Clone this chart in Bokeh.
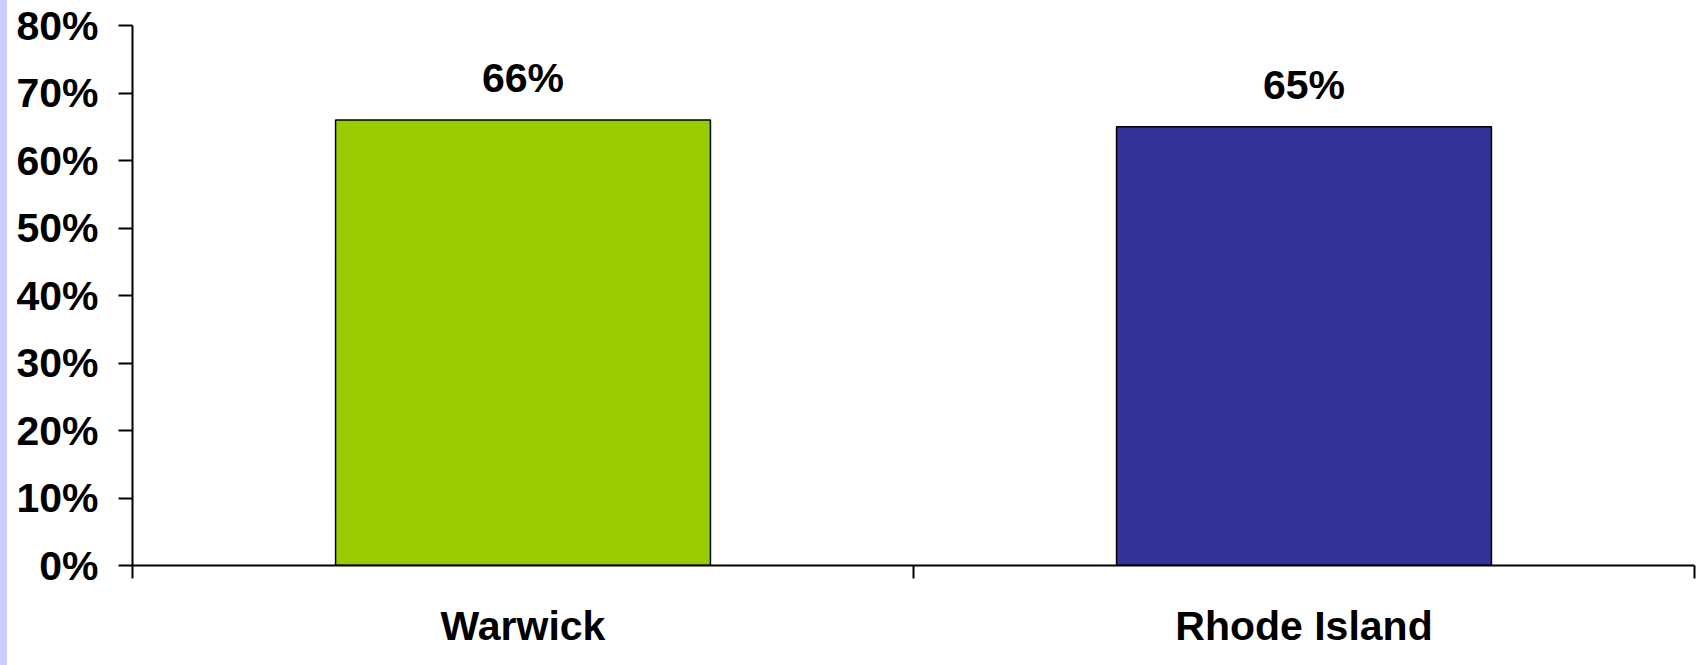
from bokeh.plotting import figure
from bokeh.layouts import row
from bokeh.models import (ColumnDataSource, FixedTicker, NumeralTickFormatter,
                          Range1d, Div)
from bokeh.core.properties import value
from bokeh.embed import file_html
from bokeh.resources import INLINE

# Share of respondents, by area
categories = ["Warwick", "Rhode Island"]
shares = [0.66, 0.65]
bar_colors = ["#99CC00", "#333399"]
share_labels = ["66%", "65%"]
y_ticks = [0.0, 0.1, 0.2, 0.3, 0.4, 0.5, 0.6, 0.7, 0.8]

FONT = "Liberation Sans"
FONT_SIZE = "41px"

positions = [i + 0.5 for i in range(len(categories))]
src = ColumnDataSource(dict(x=positions, top=shares, color=bar_colors,
                            label=share_labels))

p = figure(width=1700, height=665, output_backend="svg", toolbar_location=None,
           x_range=Range1d(0, len(categories)), y_range=Range1d(0, 0.8),
           min_border_left=125, min_border_right=13, min_border_top=25,
           min_border_bottom=100)
p.outline_line_color = None
p.background_fill_color = "white"
p.border_fill_color = "white"
p.xgrid.visible = False
p.ygrid.visible = False

p.vbar(x="x", top="top", width=0.48, fill_color="color", line_color="black",
       line_width=1.5, source=src)

p.text(x="x", y="top", text="label", source=src, text_align="center",
       text_baseline="alphabetic", y_offset=-42, text_font=value(FONT),
       text_font_style="bold", text_font_size=FONT_SIZE, text_color="black")

# y axis: percentages
ya = p.yaxis[0]
ya.ticker = FixedTicker(ticks=y_ticks)
ya.formatter = NumeralTickFormatter(format="0%")
ya.axis_line_width = 2
ya.axis_line_color = "black"
ya.major_tick_line_width = 2
ya.major_tick_line_color = "black"
ya.major_tick_in = 0
ya.major_tick_out = 14
ya.minor_tick_line_color = None
ya.major_label_standoff = 20
ya.major_label_text_font = FONT
ya.major_label_text_font_style = "bold"
ya.major_label_text_font_size = FONT_SIZE
ya.major_label_text_color = "black"

# x axis: ticks on category boundaries, names at the centres
xa = p.xaxis[0]
xa.ticker = FixedTicker(ticks=positions,
                        minor_ticks=list(range(len(categories) + 1)))
xa.major_label_overrides = {pos: name for pos, name in zip(positions, categories)}
xa.axis_line_width = 2
xa.axis_line_color = "black"
xa.major_tick_line_color = None
xa.major_tick_in = 0
xa.major_tick_out = 13
xa.minor_tick_line_width = 2
xa.minor_tick_line_color = "black"
xa.minor_tick_in = 0
xa.minor_tick_out = 13
xa.major_label_standoff = 24
xa.major_label_text_font = FONT
xa.major_label_text_font_style = "bold"
xa.major_label_text_font_size = FONT_SIZE
xa.major_label_text_color = "black"

stripe = Div(width=7, height=665, margin=0,
             styles={"background-color": "#CCCCFF"})

layout = row(stripe, p, spacing=0)

open("out.html", "w").write(file_html(layout, INLINE))
